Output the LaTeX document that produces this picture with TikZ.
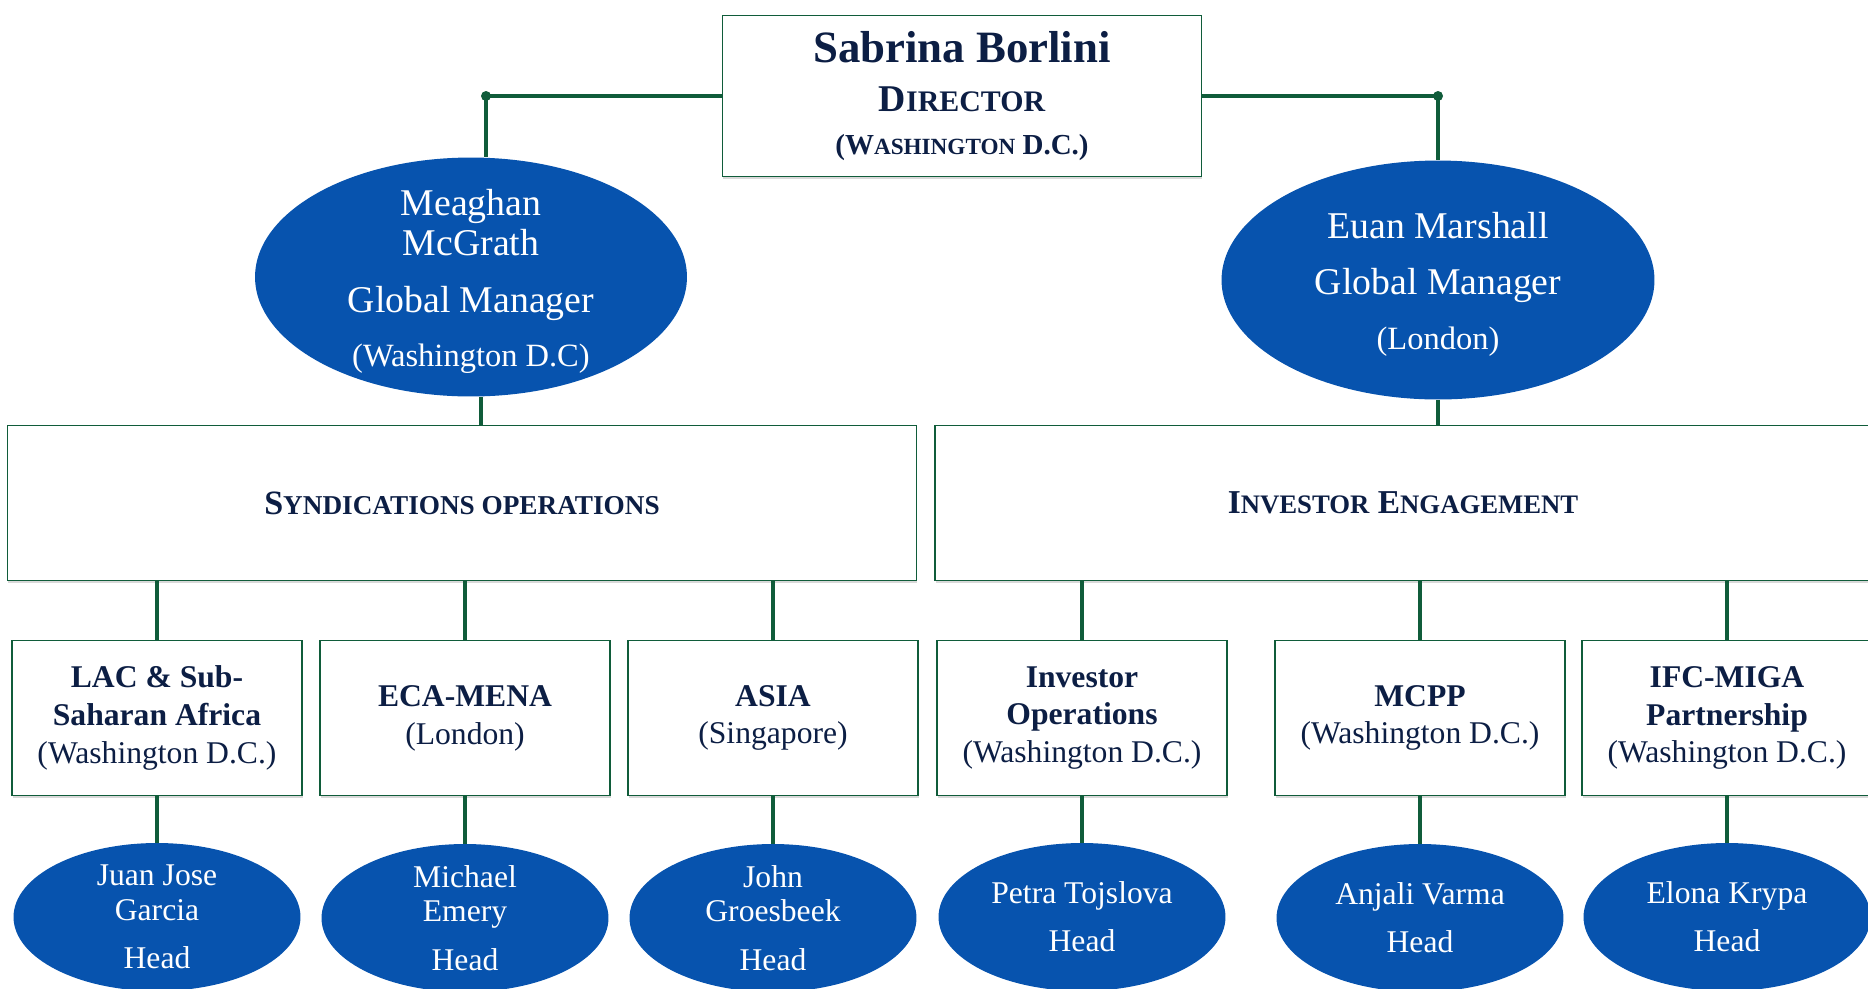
\documentclass[tikz,border=0pt]{standalone}
\usepackage{fontspec}
\setmainfont{Liberation Serif}
\usetikzlibrary{shapes.geometric, shadows}
\definecolor{linegreen}{RGB}{16,92,58}
\definecolor{ovalblue}{RGB}{7,83,174}
\definecolor{textnavy}{RGB}{12,30,68}
\newcommand{\scword}[4]{{\fontsize{#1}{#1}\selectfont #3\fontsize{#2}{#2}\selectfont #4}}
\newcommand{\managerlabel}[2]{#1 \\[9pt] Global Manager \\[8pt] {\fontsize{18.5}{18.5}\selectfont (#2)}}
\newcommand{\unitlabel}[2]{#1 \\ {\mdseries (#2)}}
\newcommand{\headlabel}[1]{#1 \\[8pt] Head}

\begin{document}
\begin{tikzpicture}[x = 0.02cm, y = -0.02cm,
	box/.style = {draw = linegreen, line width = 1pt, fill = white, text = textnavy, align = center, inner sep = 0pt, drop shadow = {shadow xshift = 0.5pt, shadow yshift = -1.2pt, opacity = 0.3}},
	unit/.style = {box, minimum width = 5.8cm, minimum height = 3.1cm, font = \bfseries\fontsize{18}{21.5}\selectfont},
	dept/.style = {box, minimum height = 3.1cm, font = \bfseries\fontsize{19.4}{19.4}\selectfont},
	oval/.style = {ellipse, fill = ovalblue, inner sep = 0pt},
	ovaltext/.style = {text = white, align = center},
	mgrtext/.style = {ovaltext, yshift = -2.5pt, font = \fontsize{21.5}{23}\selectfont},
	head/.style = {oval, minimum width = 5.74cm, minimum height = 2.96cm},
	conn/.style = {draw = linegreen, line width = 2.6pt}]
	\useasboundingbox (0, 0) rectangle (1868, 988);

	\node (boss) at (962, 96) [box, minimum width = 9.58cm, minimum height = 3.22cm, font = \bfseries\fontsize{25.5}{28}\selectfont] {Sabrina Borlini \\ \scword{21.5}{17}{D}{IRECTOR} \\[-4pt] {\fontsize{16.5}{16.5}\selectfont (\scword{16.5}{13.2}{W}{ASHINGTON} D.C.)}};

	\node (mgrL) at (471, 277) [oval, minimum width = 8.64cm, minimum height = 4.78cm, label = {[mgrtext]center:{\managerlabel{Meaghan \\ McGrath}{Washington D.C}}}] {};
	\node (mgrR) at (1438, 280) [oval, minimum width = 8.66cm, minimum height = 4.78cm, label = {[mgrtext]center:{\managerlabel{Euan Marshall}{London}}}] {};
	\coordinate (mgrLtop) at ([xshift = 0.3cm]mgrL.north);
	\coordinate (mgrLbot) at ([xshift = 0.2cm]mgrL.south);

	\node (synd) at (462, 503) [dept, minimum width = 18.18cm] {\scword{19.4}{15.5}{S}{YNDICATIONS OPERATIONS}};
	\node (inv) at (1403, 503) [dept, minimum width = 18.72cm] {\scword{19}{15.2}{I}{NVESTOR} \scword{19}{15.2}{E}{NGAGEMENT}};

	\node (lac) at (157, 718) [unit] {\unitlabel{LAC \& Sub- \\ Saharan Africa}{Washington D.C.}};
	\node (eca) at (465, 718) [unit] {\unitlabel{ECA-MENA}{London}};
	\node (asia) at (773, 718) [unit] {\unitlabel{ASIA}{Singapore}};
	\node (invops) at (1082, 718) [unit] {\unitlabel{Investor \\ Operations}{Washington D.C.}};
	\node (mcpp) at (1420, 718) [unit] {\unitlabel{MCPP}{Washington D.C.}};
	\node (ifcmiga) at (1727, 718) [unit] {\unitlabel{IFC-MIGA \\ Partnership}{Washington D.C.}};

	\node (juan) at (157, 917) [head, label = {[ovaltext, font = \fontsize{18}{19.5}\selectfont]center:{\headlabel{Juan Jose \\ Garcia}}}] {};
	\node (michael) at (465, 918) [head, label = {[ovaltext, font = \fontsize{18}{19.5}\selectfont]center:{\headlabel{Michael \\ Emery}}}] {};
	\node (john) at (773, 918) [head, label = {[ovaltext, font = \fontsize{18}{19.5}\selectfont]center:{\headlabel{John \\ Groesbeek}}}] {};
	\node (petra) at (1082, 917) [head, label = {[ovaltext, font = \fontsize{18}{19.5}\selectfont]center:{\headlabel{Petra Tojslova}}}] {};
	\node (anjali) at (1420, 918) [head, label = {[ovaltext, font = \fontsize{18}{19.5}\selectfont]center:{\headlabel{Anjali Varma}}}] {};
	\node (elona) at (1727, 917) [head, label = {[ovaltext, font = \fontsize{18}{19.5}\selectfont]center:{\headlabel{Elona Krypa}}}] {};

	\draw[conn] (boss.west) -| (mgrLtop);
	\draw[conn] (boss.east) -| (mgrR.north);
	\fill[linegreen] (boss.west -| mgrLtop) circle (0.1cm);
	\fill[linegreen] (boss.east -| mgrR.north) circle (0.1cm);
	\draw[conn] (mgrLbot) -- (mgrLbot |- synd.north);
	\draw[conn] (mgrR.south) -- (mgrR.south |- inv.north);

	\foreach \unit/\head/\dept in {lac/juan/synd, eca/michael/synd, asia/john/synd, invops/petra/inv, mcpp/anjali/inv, ifcmiga/elona/inv} {
		\draw[conn] (\unit.north) -- (\unit.north |- \dept.south);
		\draw[conn] (\unit.south) -- (\head.north);
	}
\end{tikzpicture}
\end{document}
